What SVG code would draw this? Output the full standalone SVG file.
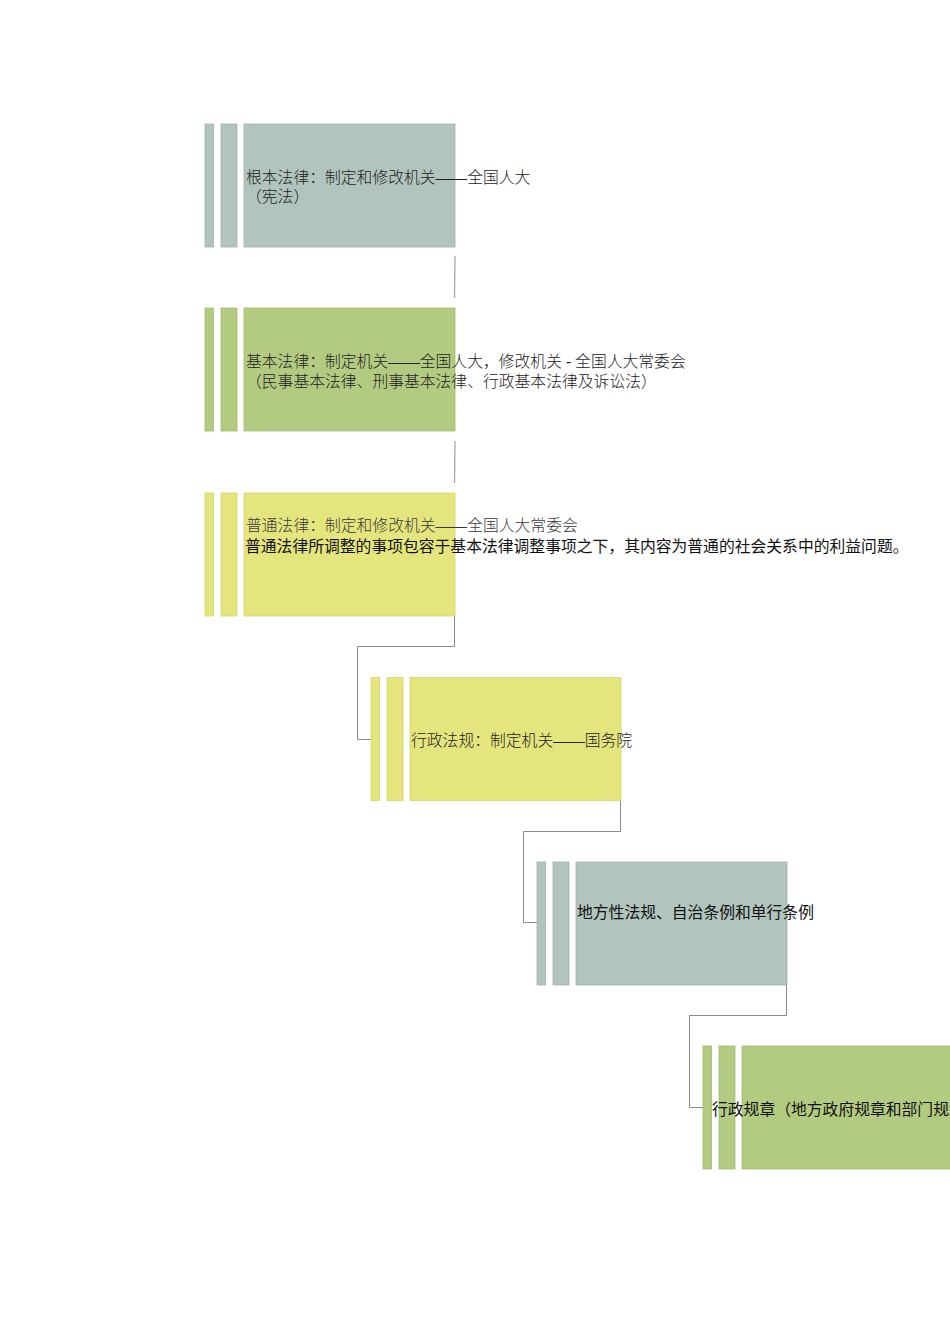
<svg xmlns="http://www.w3.org/2000/svg" width="950" height="1344" viewBox="0 0 950 1344">
<style>
.bg{fill:#ffffff}
.gg{fill:#b1c4bd;stroke:#a1b5ad;stroke-width:0.8}
.gr{fill:#b3cb80;stroke:#a2bb6f;stroke-width:0.8}
.ye{fill:#e5e57e;stroke:#d4d46c;stroke-width:0.8}
.conn{fill:none;stroke:#8c8c8c;stroke-width:1}
.conn2{fill:none;stroke:#a8a8a8;stroke-width:1.3}
.t{font-family:"Liberation Serif","Noto Sans CJK SC",serif;font-size:15.8px;fill:#222222;font-weight:300;dominant-baseline:central}
.ts{font-family:"Noto Sans CJK SC","Liberation Sans",sans-serif;font-size:15.8px;fill:#111111;dominant-baseline:central}
</style>
<rect class="bg" x="0" y="0" width="950" height="1344"/>
<g id="connectors">
<path class="conn2" d="M455,256 L454.5,298"/>
<path class="conn2" d="M455,441 L454.5,483"/>
<path class="conn" d="M454.5,616 V646.5 H357.5 V739.5 H371"/>
<path class="conn" d="M620.5,801 V831.5 H523.5 V922.5 H537"/>
<path class="conn" d="M786.5,985 V1015.5 H689.5 V1107.5 H703"/>
</g>
<g id="node1">
<rect class="gg" x="205" y="124" width="8.5" height="123"/>
<rect class="gg" x="221" y="124" width="16" height="123"/>
<rect class="gg" x="244" y="124" width="211" height="123"/>
<text class="t" x="246" y="177">根本法律：制定和修改机关——全国人大</text>
<text class="t" x="246" y="196">（宪法）</text>
</g>
<g id="node2">
<rect class="gr" x="205" y="308" width="8.5" height="123"/>
<rect class="gr" x="221" y="308" width="16" height="123"/>
<rect class="gr" x="244" y="308" width="211" height="123"/>
<text class="t" x="246" y="361">基本法律：制定机关——全国人大，修改机关 - 全国人大常委会</text>
<text class="t" x="246" y="381">（民事基本法律、刑事基本法律、行政基本法律及诉讼法）</text>
</g>
<g id="node3">
<rect class="ye" x="205" y="493" width="8.5" height="123"/>
<rect class="ye" x="221" y="493" width="16" height="123"/>
<rect class="ye" x="244" y="493" width="211" height="123"/>
<text class="t" x="246" y="525" style="fill:#3a3a3a">普通法律：制定和修改机关——全国人大常委会</text>
<text class="ts" x="245" y="545">普通法律所调整的事项包容于基本法律调整事项之下，其内容为普通的社会关系中的利益问题。</text>
</g>
<g id="node4">
<rect class="ye" x="371" y="677.5" width="8.5" height="123"/>
<rect class="ye" x="387" y="677.5" width="16" height="123"/>
<rect class="ye" x="410" y="677.5" width="211" height="123"/>
<text class="t" x="411" y="740">行政法规：制定机关——国务院</text>
</g>
<g id="node5">
<rect class="gg" x="537" y="862" width="8.5" height="123"/>
<rect class="gg" x="553" y="862" width="16" height="123"/>
<rect class="gg" x="576" y="862" width="211" height="123"/>
<text class="ts" x="577" y="911">地方性法规、自治条例和单行条例</text>
</g>
<g id="node6">
<rect class="gr" x="703" y="1046" width="8.5" height="123"/>
<rect class="gr" x="719" y="1046" width="16" height="123"/>
<rect class="gr" x="742" y="1046" width="211" height="123"/>
<text class="ts" x="712" y="1108">行政规章（地方政府规章和部门规章）</text>
</g>
</svg>
